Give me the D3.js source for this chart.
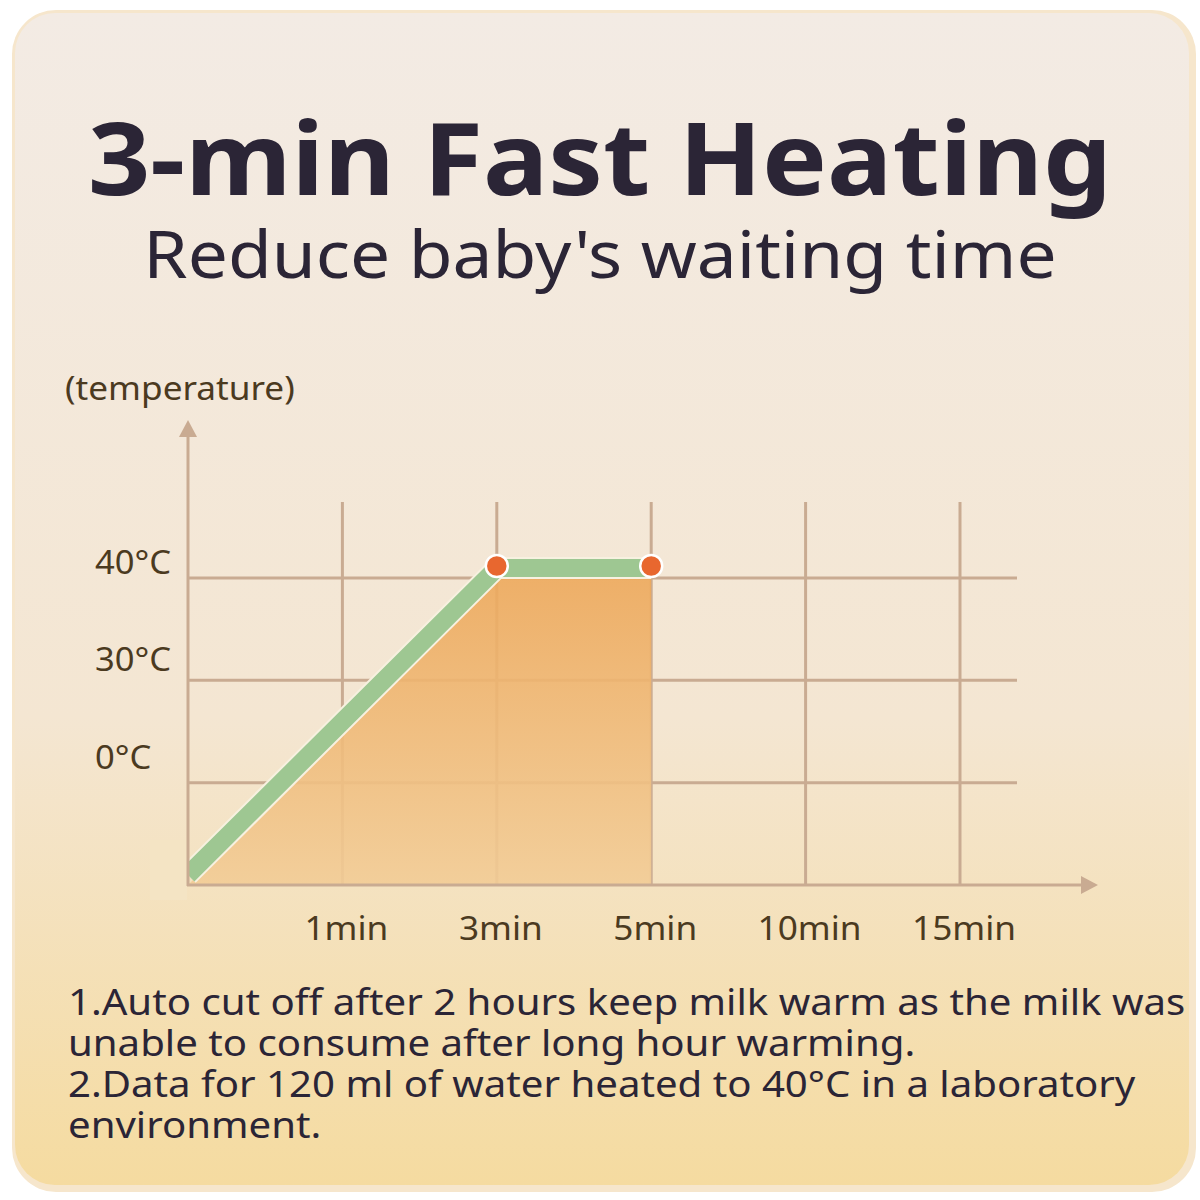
<!doctype html>
<html lang="en">
<head>
<meta charset="utf-8">
<title>3-min Fast Heating</title>
<script src="https://cdn.jsdelivr.net/npm/d3@7"></script>
<style>
  body { margin: 0; background: #fff; }
  svg { display: block; font-family: "Noto Sans", sans-serif; }
</style>
</head>
<body>
<div id="viz"></div>
<script>
// DATA
var xCats = ["0", "1min", "3min", "5min", "10min", "15min"];
var xLabels = ["1min", "3min", "5min", "10min", "15min"];
var yCats = ["base", "0°C", "30°C", "40°C"];
var yLabels = ["0°C", "30°C", "40°C"];
var heatX = ["0", "3min", "5min"];
var heatY = ["base", "40°C", "40°C"];
var notes = [
  "1.Auto cut off after 2 hours keep milk warm as the milk was",
  "unable to consume after long hour warming.",
  "2.Data for 120 ml of water heated to 40°C in a laboratory",
  "environment."
];

var W = 1200, H = 1200;
var svg = d3.select("#viz").append("svg").attr("width", W).attr("height", H);
var defs = svg.append("defs");

var bg = defs.append("linearGradient").attr("id", "bg").attr("x1", 0).attr("y1", 0).attr("x2", 0).attr("y2", 1);
bg.append("stop").attr("offset", "0").attr("stop-color", "#f3ebe4");
bg.append("stop").attr("offset", "0.6").attr("stop-color", "#f4e6d2");
bg.append("stop").attr("offset", "1").attr("stop-color", "#f5dba0");

var fillG = defs.append("linearGradient").attr("id", "fillG").attr("x1", 0).attr("y1", 0).attr("x2", 0).attr("y2", 1);
fillG.append("stop").attr("offset", "0").attr("stop-color", "#eda95c");
fillG.append("stop").attr("offset", "1").attr("stop-color", "#f2cc96");

// wide-ish text: stretch horizontally around anchor point
function stretched(sel, px, py, sx) {
  return sel.attr("x", 0).attr("y", 0)
    .attr("transform", "translate(" + px + "," + py + ") scale(" + sx + ",1)");
}

// card
svg.append("rect").attr("x", 12).attr("y", 10).attr("width", 1184).attr("height", 1182)
  .attr("rx", 44).attr("fill", "#f6e6cc");
svg.append("rect").attr("x", 15).attr("y", 13).attr("width", 1174).attr("height", 1172)
  .attr("rx", 40).attr("fill", "url(#bg)");

// titles
stretched(svg.append("text"), 600, 195, 1.09).attr("text-anchor", "middle")
  .attr("font-size", 100).attr("font-weight", 700).attr("fill", "#2b2536")
  .text("3-min Fast Heating");
stretched(svg.append("text"), 600, 278, 1.08).attr("text-anchor", "middle")
  .attr("font-size", 66).attr("fill", "#2b2536")
  .text("Reduce baby's waiting time");

// SCALES
var x = d3.scalePoint().domain(xCats).range([188, 960]);
var y = d3.scalePoint().domain(yCats).range([885, 578]);
var gridColor = "#c9ab92";

var g = svg.append("g");
g.selectAll("line.v").data(xCats.slice(1)).enter().append("line")
  .attr("x1", function (d) { return x(d); }).attr("x2", function (d) { return x(d); })
  .attr("y1", 502).attr("y2", 885)
  .attr("stroke", gridColor).attr("stroke-width", 3);
g.selectAll("line.h").data(yCats.slice(1)).enter().append("line")
  .attr("x1", 188).attr("x2", 1017)
  .attr("y1", function (d) { return y(d); }).attr("y2", function (d) { return y(d); })
  .attr("stroke", gridColor).attr("stroke-width", 3);

// area
var pts = heatX.map(function (d, i) { return [x(d), y(heatY[i])]; });
var area = d3.area().x(function (d) { return d[0]; }).y0(y("base")).y1(function (d) { return d[1]; });
g.append("path").datum(pts).attr("d", area).attr("fill", "url(#fillG)").attr("opacity", 0.9);

// green band
var line = d3.line().x(function (d) { return d[0]; }).y(function (d) { return d[1] - 10; });
g.append("path").datum(pts).attr("d", line).attr("fill", "none")
  .attr("stroke", "#f7f1e0").attr("stroke-width", 22).attr("stroke-linejoin", "miter");
g.append("path").datum(pts).attr("d", line).attr("fill", "none")
  .attr("stroke", "#9ec792").attr("stroke-width", 18).attr("stroke-linejoin", "miter");
g.append("rect").attr("x", 150).attr("y", 840).attr("width", 37).attr("height", 60).attr("fill", "#f4e4c4");

// axes with arrows
g.append("line").attr("x1", 188).attr("x2", 188).attr("y1", 886).attr("y2", 432)
  .attr("stroke", gridColor).attr("stroke-width", 3);
g.append("path").attr("d", "M188,420 L179,437 L197,437 Z").attr("fill", gridColor);
g.append("line").attr("x1", 187).attr("x2", 1085).attr("y1", 885).attr("y2", 885)
  .attr("stroke", gridColor).attr("stroke-width", 3);
g.append("path").attr("d", "M1098,885 L1081,876 L1081,894 Z").attr("fill", gridColor);

// dots
g.selectAll("circle").data(pts.slice(1)).enter().append("circle")
  .attr("cx", function (d) { return d[0]; }).attr("cy", function (d) { return d[1] - 12; })
  .attr("r", 11).attr("fill", "#e8672f").attr("stroke", "#fff").attr("stroke-width", 2.5);

// labels
stretched(svg.append("text"), 65, 400, 1.1).attr("font-size", 32).attr("fill", "#4b3a1f")
  .text("(temperature)");
yLabels.forEach(function (d, i) {
  stretched(svg.append("text"), 95, y(d) - 4 - (2 - i) * 5, 1.08)
    .attr("font-size", 32).attr("fill", "#4b3a1f").text(d);
});
xLabels.forEach(function (d) {
  stretched(svg.append("text"), x(d) + 4, 940, 1.1).attr("text-anchor", "middle")
    .attr("font-size", 32).attr("fill", "#4b3a1f").text(d);
});

// notes
notes.forEach(function (d, i) {
  stretched(svg.append("text"), 68, 1015 + i * 41, 1.1)
    .attr("font-size", 36.5).attr("fill", "#2b2536").text(d);
});
</script>
</body>
</html>
